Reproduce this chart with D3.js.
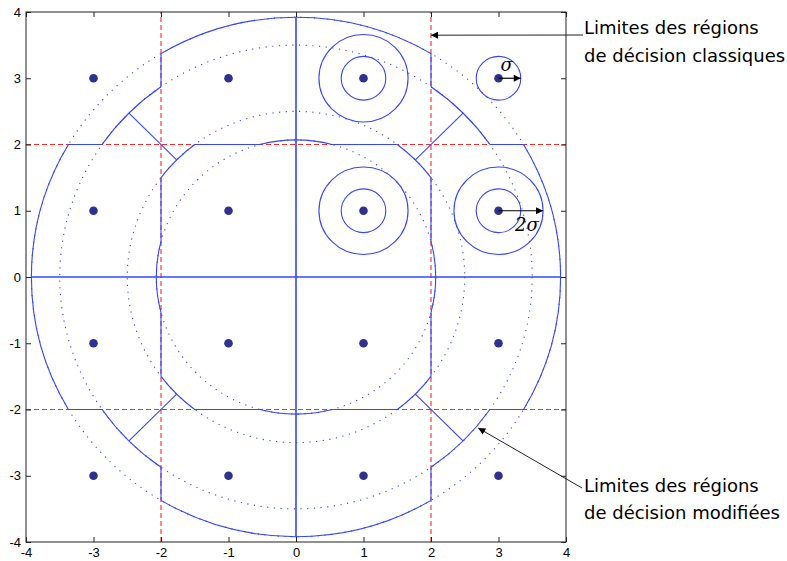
<!DOCTYPE html>
<html>
<head>
<meta charset="utf-8">
<script src="https://cdn.jsdelivr.net/npm/d3@7"></script>
<style>
body { margin: 0; background: #fff; }
.tick text { font-family: "Liberation Sans", Arial, sans-serif; font-size: 13px; fill: #000; }
.note { font-family: "DejaVu Sans", sans-serif; font-size: 18px; fill: #000; }
.greek { font-family: "DejaVu Serif", serif; font-style: italic; font-size: 18px; fill: #000; }
</style>
</head>
<body>
<svg width="787" height="561"></svg>
<script>
// tick values, same on both axes
var ticks = [-4, -3, -2, -1, 0, 1, 2, 3, 4];
// 16-QAM constellation
var points = [[-3, 3], [-1, 3], [1, 3], [3, 3],
              [-3, 1], [-1, 1], [1, 1], [3, 1],
              [-3, -1], [-1, -1], [1, -1], [3, -1],
              [-3, -3], [-1, -3], [1, -3], [3, -3]];
// classic decision thresholds (red dashed)
var classic = [-2, 2];
// radii of the modified regions R0..R3 (dotted circles)
var radii = [2.07, 2.5, 3.5, 3.92];
var sigma = 0.33;
// noise circles : centre x, centre y, multiples of sigma
var rings = [[1, 3, [1, 2]], [3, 3, [1]], [1, 1, [1, 2]], [3, 1, [1, 2]]];
// sigma arrows : centre x, centre y, multiple, label
var sigmaArrows = [[3, 3, 1, "σ"], [3, 1, 2, "2σ"]];
var notes = [["Limites des régions", "de décision classiques"],
             ["Limites des régions", "de décision modifiées"]];

var svg = d3.select("svg");
var x = d3.scaleLinear().domain([-4, 4]).range([26, 566]);
var y = d3.scaleLinear().domain([-4, 4]).range([542, 12]);
var blue = "#3446ff";

var defs = svg.append("defs");
defs.append("marker").attr("id", "head")
    .attr("viewBox", "0 0 10 10").attr("refX", 10).attr("refY", 5)
    .attr("markerWidth", 8).attr("markerHeight", 7).attr("markerUnits", "userSpaceOnUse")
    .attr("orient", "auto")
  .append("path").attr("d", "M0,0L10,5L0,10z").attr("fill", "#000");

var plot = svg.append("g");

/* dotted circles */
plot.selectAll(".dotc").data(radii).enter().append("ellipse")
    .attr("cx", x(0)).attr("cy", y(0))
    .attr("rx", function(r) { return x(r) - x(0); })
    .attr("ry", function(r) { return y(0) - y(r); })
    .attr("fill", "none").attr("stroke", blue).attr("stroke-width", 1.1)
    .attr("stroke-dasharray", "1.2,5.5");

/* classic thresholds */
classic.forEach(function(c) {
  plot.append("line").attr("x1", x(c)).attr("x2", x(c)).attr("y1", y(-4)).attr("y2", y(4))
      .attr("stroke", "#ff2a2a").attr("stroke-width", 1.1).attr("stroke-dasharray", "5,3");
  plot.append("line").attr("y1", y(c)).attr("y2", y(c)).attr("x1", x(-4)).attr("x2", x(4))
      .attr("stroke", "#ff2a2a").attr("stroke-width", 1.1).attr("stroke-dasharray", "5,3");
});

/* modified boundaries, built for one quadrant then mirrored */
var R0 = radii[0], R1 = radii[1], R2 = radii[2], R3 = radii[3];
var a0 = Math.sqrt(R0 * R0 - 4), a1 = Math.sqrt(R1 * R1 - 4),
    b2 = Math.sqrt(R2 * R2 - 4), b3 = Math.sqrt(R3 * R3 - 4),
    d1 = R1 / Math.SQRT2, d2 = R2 / Math.SQRT2;
var segs = [[[0, 0], [R3, 0]], [[0, 0], [0, R3]],
            [[2, a0], [2, a1]], [[a0, 2], [a1, 2]],
            [[d1, d1], [d2, d2]],
            [[2, b2], [2, b3]], [[b2, 2], [b3, 2]]];
var arcs = [[R0, [R0, 0], [2, a0]], [R0, [0, R0], [a0, 2]],
            [R1, [2, a1], [a1, 2]], [R2, [2, b2], [b2, 2]],
            [R3, [R3, 0], [b3, 2]], [R3, [0, R3], [2, b3]]];

function arcPath(r, p, q) {
  var rx = x(r) - x(0), ry = y(0) - y(r);
  var sweep = (p[0] * q[1] - p[1] * q[0]) > 0 ? 0 : 1;
  return "M" + x(p[0]) + "," + y(p[1]) + "A" + rx + "," + ry + " 0 0 " + sweep + " " + x(q[0]) + "," + y(q[1]);
}

var bnd = plot.append("g").attr("fill", "none").attr("stroke", blue).attr("stroke-width", 1.1);
[[1, 1], [-1, 1], [-1, -1], [1, -1]].forEach(function(s) {
  function m(p) { return [p[0] * s[0], p[1] * s[1]]; }
  segs.forEach(function(sg) {
    var p = m(sg[0]), q = m(sg[1]);
    bnd.append("path").attr("d", "M" + x(p[0]) + "," + y(p[1]) + "L" + x(q[0]) + "," + y(q[1]));
  });
  arcs.forEach(function(a) {
    bnd.append("path").attr("d", arcPath(a[0], m(a[1]), m(a[2])));
  });
});

/* noise circles */
rings.forEach(function(r) {
  r[2].forEach(function(k) {
    plot.append("ellipse").attr("cx", x(r[0])).attr("cy", y(r[1]))
        .attr("rx", x(k * sigma) - x(0)).attr("ry", y(0) - y(k * sigma))
        .attr("fill", "none").attr("stroke", blue).attr("stroke-width", 1.1);
  });
});

/* constellation points */
plot.selectAll(".pt").data(points).enter().append("circle")
    .attr("cx", function(d) { return x(d[0]); })
    .attr("cy", function(d) { return y(d[1]); })
    .attr("r", 4.3).attr("fill", "#2f3190");

/* sigma arrows */
sigmaArrows.forEach(function(a, i) {
  plot.append("line").attr("x1", x(a[0])).attr("y1", y(a[1]))
      .attr("x2", x(a[0] + a[2] * sigma)).attr("y2", y(a[1]))
      .attr("stroke", "#000").attr("stroke-width", 1.2).attr("marker-end", "url(#head)");
  plot.append("text").attr("class", "greek")
      .attr("x", i == 0 ? x(a[0] + 0.12) : x(a[0] + 0.42))
      .attr("y", i == 0 ? y(a[1] + 0.11) : y(a[1] - 0.3))
      .attr("text-anchor", "middle").text(a[3]);
});

/* axes box */
svg.append("g").attr("transform", "translate(0," + y(-4) + ")")
    .call(d3.axisBottom(x).tickValues(ticks).tickSizeInner(-5).tickSizeOuter(0).tickPadding(6).tickFormat(String));
svg.append("g").attr("transform", "translate(0," + y(4) + ")")
    .call(d3.axisTop(x).tickValues(ticks).tickSizeInner(-5).tickSizeOuter(0).tickFormat(""));
svg.append("g").attr("transform", "translate(" + x(-4) + ",0)")
    .call(d3.axisLeft(y).tickValues(ticks).tickSizeInner(-5).tickSizeOuter(0).tickPadding(5).tickFormat(String));
svg.append("g").attr("transform", "translate(" + x(4) + ",0)")
    .call(d3.axisRight(y).tickValues(ticks).tickSizeInner(-5).tickSizeOuter(0).tickFormat(""));
svg.selectAll(".domain").remove();
svg.selectAll(".tick line").attr("stroke", "#222");
svg.append("rect").attr("x", x(-4)).attr("y", y(4))
    .attr("width", x(4) - x(-4)).attr("height", y(-4) - y(4))
    .attr("fill", "none").attr("stroke", "#222").attr("stroke-width", 1);

/* annotations */
var tips = [[2, 3.65], [2.7, -2.28]];
var starts = [[583, 35], [582, 488]];
var baselines = [[34, 62], [492, 519]];
notes.forEach(function(n, i) {
  svg.append("line").attr("x1", starts[i][0]).attr("y1", starts[i][1])
      .attr("x2", x(tips[i][0])).attr("y2", y(tips[i][1]))
      .attr("stroke", "#222").attr("stroke-width", 1).attr("marker-end", "url(#head)");
  n.forEach(function(t, j) {
    svg.append("text").attr("class", "note").attr("x", 584).attr("y", baselines[i][j]).text(t);
  });
});
</script>
</body>
</html>
